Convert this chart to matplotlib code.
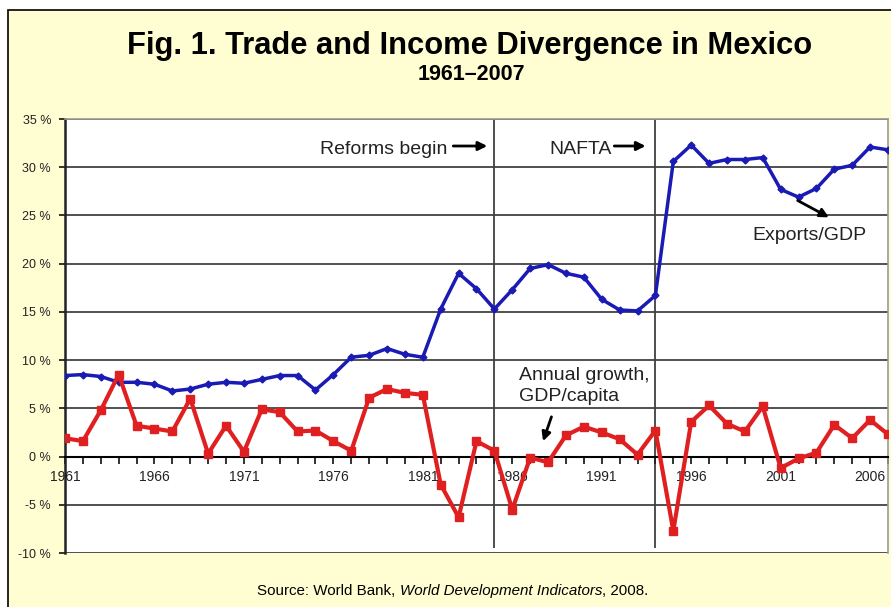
import numpy as np
import matplotlib
matplotlib.use('Agg')
import matplotlib.pyplot as plt
from matplotlib.patches import Rectangle

plt.rcParams['font.family'] = ['Liberation Sans', 'DejaVu Sans']

## data (percent)
years = list(range(1961, 2008))
exports_gdp = [8.4, 8.5, 8.3, 7.7, 7.7, 7.5, 6.8, 7.0, 7.5, 7.7,
               7.6, 8.0, 8.4, 8.4, 6.9, 8.5, 10.3, 10.5, 11.2, 10.6,
               10.3, 15.3, 19.0, 17.4, 15.3, 17.3, 19.5, 19.9, 19.0, 18.6,
               16.3, 15.2, 15.1, 16.7, 30.6, 32.3, 30.4, 30.8, 30.8, 31.0,
               27.7, 26.9, 27.8, 29.8, 30.2, 32.1, 31.8]
gdp_pc_growth = [1.9, 1.6, 4.8, 8.5, 3.2, 2.9, 2.6, 6.0, 0.3, 3.2,
                 0.5, 4.9, 4.6, 2.6, 2.7, 1.6, 0.6, 6.1, 7.0, 6.6,
                 6.4, -2.9, -6.3, 1.6, 0.6, -5.5, -0.1, -0.6, 2.2, 3.1,
                 2.5, 1.8, 0.2, 2.7, -7.7, 3.6, 5.3, 3.4, 2.6, 5.2,
                 -1.2, -0.2, 0.4, 3.3, 1.9, 3.8, 2.3]
yticks = [-10, -5, 0, 5, 10, 15, 20, 25, 30, 35]
event_years = [1985, 1994]

fig = plt.figure(figsize=(8.91, 6.07), dpi=100)
fig.patch.set_facecolor('white')
# yellow frame
fig.patches.append(Rectangle((8/891, -0.05), 1.2, 1.05 - 10/607, transform=fig.transFigure,
                             facecolor='#FFFED2', edgecolor='black', lw=1.2, zorder=-5))

ax = fig.add_axes([65/891, 54/607, 823/891, 434/607])
ax.set_facecolor('white')
ax.set_zorder(2)

for yv in yticks:
    ax.axhline(yv, color='#505050', lw=1.4, zorder=1)
ax.vlines(event_years, -9.5, 35, color='#404040', lw=1.3, zorder=1)

ax.plot(years, exports_gdp, color='#1A1AB4', lw=2.5, marker='D', ms=3.5, zorder=3)
ax.plot(years, gdp_pc_growth, color='#E02020', lw=3, marker='s', ms=6, zorder=3)

ax.set_xlim(1961, 2007)
ax.set_ylim(-10, 35)
ax.set_yticks(yticks)
ax.set_yticklabels(['%d %%' % v for v in yticks], fontsize=9)
ax.set_xticks(years)
ax.set_xticklabels([str(y) if (y - 1961) % 5 == 0 else '' for y in years], fontsize=9.5)

ax.spines['bottom'].set_position(('data', 0))
ax.spines['bottom'].set_color('black')
ax.spines['bottom'].set_linewidth(1.5)
ax.spines['left'].set_color('#222222')
ax.spines['left'].set_linewidth(1.8)
for s in ['top', 'right']:
    ax.spines[s].set_color('#999999')
    ax.spines[s].set_linewidth(1.2)
ax.tick_params(axis='x', direction='out', length=5, width=1.3, pad=5, colors='#222222')
ax.tick_params(axis='y', direction='out', length=4, width=1.3, pad=6, colors='#222222')

# annotations
txt = dict(fontsize=14, color='#222222', va='center')
arr = dict(arrowstyle='-|>', color='black', lw=2, mutation_scale=13, shrinkA=0, shrinkB=0)
ax.text(1982.35, 31.8, 'Reforms begin', ha='right', **txt)
ax.annotate('', xy=(1984.6, 32.2), xytext=(1982.7, 32.2), arrowprops=arr)
ax.text(1988.05, 31.8, 'NAFTA', ha='left', **txt)
ax.annotate('', xy=(1993.45, 32.2), xytext=(1991.7, 32.2), arrowprops=arr)
ax.text(1999.4, 22.9, 'Exports/GDP', ha='left', **txt)
ax.annotate('', xy=(2003.7, 24.8), xytext=(2001.95, 26.55), arrowprops=arr)
ax.text(1986.36, 7.3, 'Annual growth,\nGDP/capita', ha='left', linespacing=1.35, **txt)
ax.annotate('', xy=(1987.72, 1.59), xytext=(1988.19, 4.12), arrowprops=arr)

fig.text(470/891, 1 - 46/607, 'Fig. 1. Trade and Income Divergence in Mexico',
         ha='center', va='center', fontsize=22.2, fontweight='bold')
fig.text(471/891, 1 - 75/607, '1961\u20132007', ha='center', va='center', fontsize=15.5,
         fontweight='bold')

# source line: plain / italic / plain pieces chained together
src = fig.text(257/891, 1 - 595/607, 'Source: World Bank, ', ha='left', va='baseline', fontsize=10.9)
src2 = fig.text(0, 0, 'World Development Indicators', ha='left', va='baseline',
                fontsize=10.9, style='italic')
src3 = fig.text(0, 0, ', 2008.', ha='left', va='baseline', fontsize=10.9)
r = fig.canvas.get_renderer()
bb = src.get_window_extent(r)
src2.set_position((bb.x1 / fig.bbox.width, src.get_position()[1]))
bb2 = src2.get_window_extent(r)
src3.set_position((bb2.x1 / fig.bbox.width, src.get_position()[1]))

fig.savefig('out.png', dpi=100)
